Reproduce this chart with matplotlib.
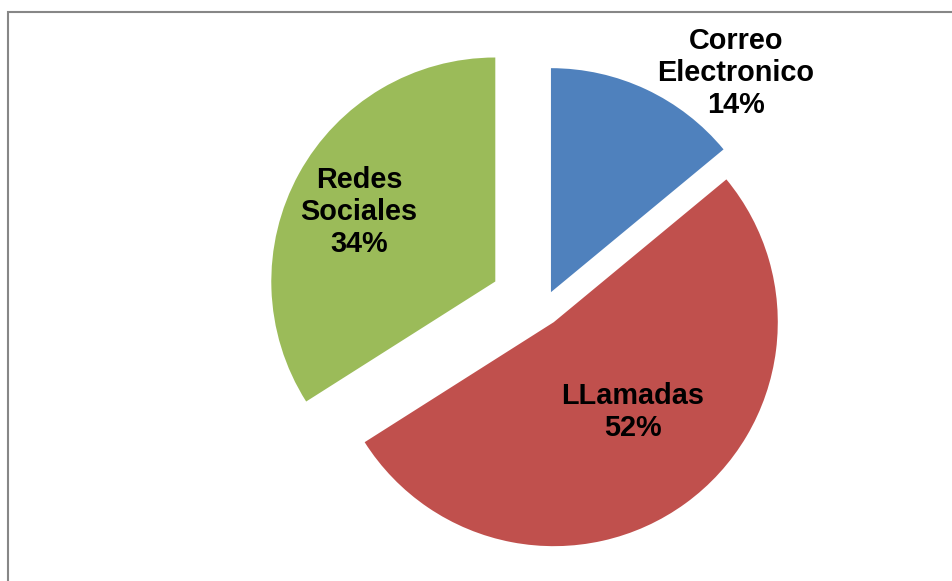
import matplotlib.pyplot as plt
from matplotlib.patches import Rectangle

# share of contact channels
names = ['Correo\nElectronico', 'LLamadas', 'Redes\nSociales']
shares = [14, 52, 34]
colors = ['#4F81BD', '#C0504D', '#9BBB59']
explode = [17.5, 17.5, 55]   # offsets in pixels

# label anchor points (pixel space, y measured upward)
label_xy = [(736, 508), (633, 169), (359, 369)]

W, H = 952, 581
fig = plt.figure(figsize=(W / 100, H / 100), dpi=100)
ax = fig.add_axes([0, 0, 1, 1])

ax.pie(shares, colors=colors, explode=explode, startangle=90,
       counterclock=False, radius=224, center=(543.5, 273),
       wedgeprops={'linewidth': 0})

for name, val, (x, y) in zip(names, shares, label_xy):
  ax.text(x, y, f'{name}\n{val}%', ha='center', va='center',
          fontsize=20.8, fontweight='bold', family='Liberation Sans',
          color='black', linespacing=1.2)

# chart frame, right and bottom sides run off the canvas
ax.add_patch(Rectangle((7.5, -20), 980, H - 11.5 + 20, fill=False,
                       edgecolor='#878787', linewidth=1.5))

ax.set_xlim(0, W)
ax.set_ylim(0, H)
ax.set_aspect('equal')
ax.axis('off')

fig.savefig('out.png', dpi=100)
